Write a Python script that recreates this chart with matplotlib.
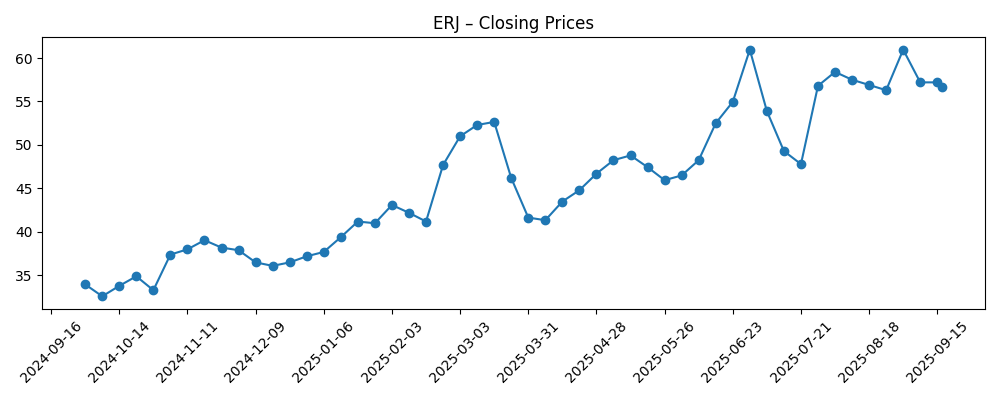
import matplotlib
matplotlib.use("Agg")
import matplotlib.pyplot as plt
import matplotlib.dates as mdates
import pandas as pd

start_date = "2024-09-30"
n_weekly = 51
last_date = "2025-09-17"

closes = [
    33.97, 32.6, 33.8, 34.9, 33.3, 37.4, 38.0, 39.05, 38.2, 37.9,
    36.5, 36.1, 36.5, 37.2, 37.7, 39.4, 41.2, 41.0, 43.1, 42.2,
    41.2, 47.7, 51.0, 52.3, 52.65, 46.2, 41.65, 41.35, 43.5, 44.8,
    46.7, 48.25, 48.8, 47.45, 45.95, 46.5, 48.25, 52.5, 54.96, 60.96,
    53.9, 49.3, 47.8, 56.8, 58.4, 57.5, 56.9, 56.3, 60.96, 57.2,
    57.2, 56.65,
]

tick_start = "2024-09-16"
tick_end = "2025-09-15"

dates = list(pd.date_range(start_date, periods=n_weekly, freq="7D")) + [pd.Timestamp(last_date)]
tick_dates = pd.date_range(tick_start, tick_end, freq="28D")

fig, ax = plt.subplots(figsize=(10, 4), dpi=100)
ax.plot(dates, closes, marker="o")
ax.set_title("ERJ \u2013 Closing Prices")
ax.set_xticks(tick_dates)
ax.xaxis.set_major_formatter(mdates.DateFormatter("%Y-%m-%d"))
plt.setp(ax.get_xticklabels(), rotation=45)
fig.tight_layout()
fig.savefig("out.png")
